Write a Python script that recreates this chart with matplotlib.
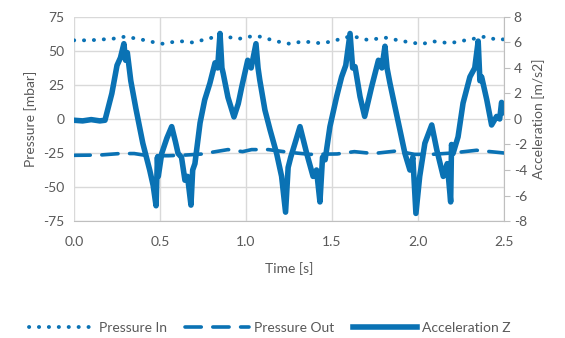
import matplotlib

matplotlib.use("Agg")
import matplotlib.pyplot as plt

plt.rcParams["font.family"] = ["Lato", "DejaVu Sans"]
plt.rcParams["axes.unicode_minus"] = False

BLUE = "#0a72b4"
GRID = "#d9d9d9"
TXT = "#595959"

# Pressure In (mbar)
p_in_t = [0.0, 0.093, 0.228, 0.297, 0.384, 0.47, 0.52, 0.597, 0.636, 0.69, 0.79,
          0.849, 0.955, 1.02, 1.08, 1.18, 1.256, 1.33, 1.43, 1.49, 1.556, 1.614,
          1.71, 1.808, 1.905, 2.02, 2.09, 2.186, 2.283, 2.39, 2.465, 2.5]
p_in = [57.8, 57.8, 59.0, 60.5, 58.6, 56.2, 55.2, 57.1, 57.0, 56.2, 59.3,
        61.4, 58.8, 60.5, 60.5, 57.0, 55.2, 57.0, 55.7, 56.7, 59.0, 61.0,
        58.0, 59.8, 57.3, 55.0, 57.0, 55.7, 58.0, 60.5, 58.0, 58.6]

# Pressure Out (mbar)
p_out_t = [0.0, 0.15, 0.267, 0.35, 0.43, 0.55, 0.65, 0.75, 0.80, 0.895, 0.98,
           1.033, 1.13, 1.25, 1.372, 1.53, 1.63, 1.74, 1.876, 1.98, 2.08,
           2.2, 2.34, 2.477, 2.5]
p_out = [-26.7, -26.5, -25.4, -25.4, -27.0, -27.0, -26.5, -25.7, -24.5, -22.5, -24.0,
         -22.5, -22.5, -24.5, -26.0, -25.7, -24.0, -25.4, -23.5, -26.0, -26.0,
         -25.0, -23.0, -24.7, -25.0]

# Acceleration Z (m/s2)
acc_t = [0.0, 0.05, 0.10, 0.15, 0.18, 0.22, 0.25, 0.27, 0.29, 0.30, 0.31, 0.33,
         0.36, 0.40, 0.44, 0.46, 0.477, 0.485, 0.49, 0.51, 0.54, 0.568, 0.59,
         0.605, 0.625, 0.645, 0.66, 0.68, 0.69, 0.703, 0.733, 0.76, 0.79, 0.82,
         0.835, 0.849, 0.86, 0.867, 0.895, 0.93, 0.955, 0.975, 1.01, 1.03, 1.058,
         1.07, 1.08, 1.11, 1.14, 1.178, 1.207, 1.23, 1.245, 1.26, 1.285, 1.314,
         1.353, 1.39, 1.41, 1.43, 1.445, 1.46, 1.488, 1.527, 1.556, 1.58, 1.605,
         1.62, 1.634, 1.663, 1.69, 1.73, 1.77, 1.79, 1.808, 1.82, 1.837, 1.866,
         1.895, 1.924, 1.953, 1.97, 1.988, 2.01, 2.04, 2.08, 2.109, 2.147, 2.17,
         2.19, 2.195, 2.204, 2.233, 2.262, 2.302, 2.33, 2.35, 2.36, 2.37, 2.40,
         2.428, 2.457, 2.475, 2.486, 2.5]
acc = [-0.1, -0.15, -0.05, -0.15, -0.1, 2.0, 4.2, 4.8, 5.9, 4.6, 5.2, 3.0,
       0.8, -1.9, -4.0, -5.2, -6.8, -3.0, -4.5, -2.7, -1.5, -0.6, -1.8,
       -2.7, -3.0, -4.8, -4.5, -6.75, -4.0, -3.5, -0.3, 1.5, 2.8, 4.4,
       4.0, 6.7, 4.0, 3.6, 1.7, 0.16, 1.2, 2.5, 4.6, 4.0, 5.9,
       4.0, 3.06, 0.7, -0.86, -2.7, -4.5, -7.3, -3.8, -3.0, -1.9, -0.6,
       -2.7, -4.5, -4.0, -6.5, -3.0, -3.2, -0.6, 1.75, 3.3, 4.2, 6.7,
       4.0, 4.1, 1.75, 0.2, 2.5, 4.6, 4.0, 5.7, 4.0, 2.8, 0.96,
       -0.86, -2.7, -4.0, -3.0, -7.4, -4.5, -1.9, -0.47, -2.4, -4.5, -3.5,
       -6.5, -2.0, -2.7, -1.4, 1.24, 3.3, 4.0, 6.1, 3.0, 3.3, 1.5,
       -0.47, 0.2, 0.0, 1.3, 0.5]

fig = plt.figure(figsize=(5.65, 3.38), dpi=100)
ax = fig.add_axes([0.131, 0.346, 0.761, 0.604])
ax2 = ax.twinx()

l1, = ax.plot(p_in_t, p_in, color=BLUE, lw=2.8, linestyle=(0, (0.05, 2.5)),
              dash_capstyle="round", label="Pressure In")
l2, = ax.plot(p_out_t, p_out, color=BLUE, lw=2.6, linestyle=(0, (4.5, 3.2)),
              dash_capstyle="round", label="Pressure Out")
l3, = ax2.plot(acc_t, acc, color=BLUE, lw=4.0, solid_joinstyle="round",
               label="Acceleration Z")

ax.set_xlim(0, 2.5)
ax.set_ylim(-75, 75)
ax.set_xticks([0, 0.5, 1.0, 1.5, 2.0, 2.5])
ax.set_xticklabels(["0.0", "0.5", "1.0", "1.5", "2.0", "2.5"])
ax.set_yticks(range(-75, 76, 25))
ax2.set_ylim(-8, 8)
ax2.set_yticks(range(-8, 9, 2))

ax.grid(True, color=GRID, lw=1)
ax.set_axisbelow(True)
for a in (ax, ax2):
    for s in a.spines.values():
        s.set_visible(False)
ax2.spines["right"].set_visible(True)
ax2.spines["right"].set_color("#bfbfbf")
ax.spines["bottom"].set_visible(True)
ax.spines["bottom"].set_color("#bfbfbf")

ax.tick_params(axis="y", length=0, labelsize=10, labelcolor=TXT, pad=7)
ax.tick_params(axis="x", length=0, labelsize=10, labelcolor=TXT, pad=11)
ax2.tick_params(axis="y", length=4, color="#bfbfbf", labelsize=10,
                labelcolor=TXT, pad=3)

ax.set_xlabel("Time [s]", fontsize=10, color=TXT, labelpad=10)
ax.set_ylabel("Pressure [mbar]", fontsize=10, color=TXT, labelpad=4)
ax2.set_ylabel("Acceleration [m/s2]", fontsize=10, color=TXT, labelpad=4)

fig.legend(handles=[l1, l2, l3], loc="lower center", ncol=3, frameon=False,
           bbox_to_anchor=(0.478, -0.025), handlelength=4.6, columnspacing=1.3,
           handletextpad=0.4, prop={"size": 10}, labelcolor=TXT)

fig.savefig("out.png", dpi=100)
